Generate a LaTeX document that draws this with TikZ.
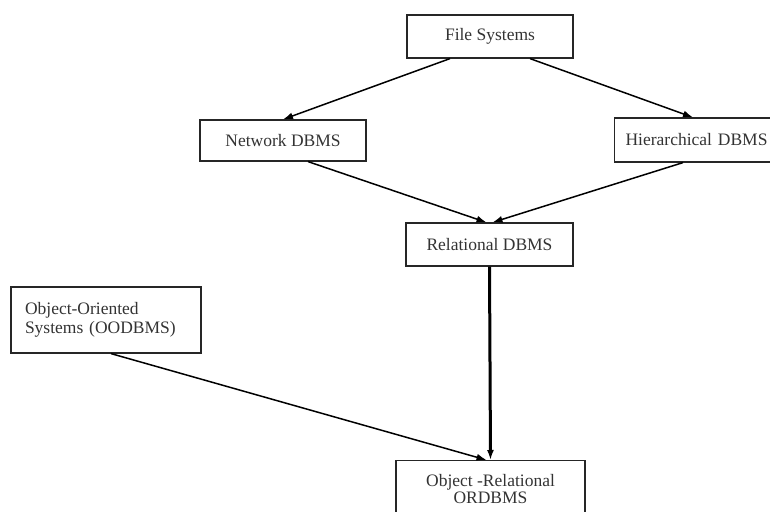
\documentclass[tikz,border=0pt]{standalone}
\usepackage{fontspec}
\setmainfont{Liberation Serif}
\usepackage{tikz}
\usetikzlibrary{positioning}
\usetikzlibrary{arrows.meta}

\begin{document}
\begin{tikzpicture}
        [x=1pt,y=-1pt,
         dbbox/.style={draw=black!85,line width=1.2pt,text=black!80,
                       font=\fontsize{17.5}{18}\selectfont,inner sep=0pt},
         link/.style={line width=1.5pt,-{Latex[length=10pt,width=7pt]}}]
      \useasboundingbox (0,0) rectangle (770,511);
      \node[dbbox,minimum width=166pt,minimum height=43pt] (FS) at (490,36.5) {File Systems};
      \node[dbbox,minimum width=166pt,minimum height=41pt] (NET) at (283,140.5) {Network DBMS};
      \node[dbbox,minimum width=172pt,minimum height=44pt,anchor=west,align=left,
            text width=150pt,inner xsep=11pt] (HIER) at (614,140) {Hierarchical DBMS};
      \node[dbbox,minimum width=190pt,minimum height=66pt,align=left,text width=162pt,
            inner xsep=14pt,font=\fontsize{17.5}{18.5}\selectfont] (OO) at (106,320)
            {Object-Oriented\\Systems (OODBMS)};
      \node[dbbox,minimum width=167pt,minimum height=43pt] (REL) at (489.5,244.5) {Relational DBMS};
      \node[dbbox,minimum width=189pt,minimum height=56pt,anchor=north,align=center,
            font=\fontsize{17.5}{17}\selectfont] (OR) at (490.5,460)
            {Object -Relational\\ORDBMS};

      \draw [link] ([xshift=-40pt]FS.south) -- (NET.north);
      \draw [link] ([xshift=40pt]FS.south) -- ([xshift=79pt]HIER.north west);
      \draw [link] ([xshift=25pt]NET.south) -- ([xshift=-3pt]REL.north);
      \draw [link] ([xshift=69pt]HIER.south west) -- ([xshift=3pt]REL.north);
      \draw [link,line width=3pt] (REL.south) -- (OR.north);
      \draw [link] ([xshift=5pt]OO.south) -- ([xshift=-4pt]OR.north);
\end{tikzpicture}
\end{document}
